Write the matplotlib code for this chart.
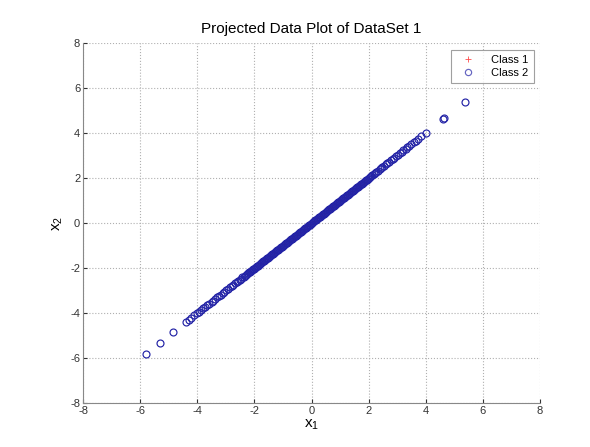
import matplotlib
matplotlib.use('Agg')
import matplotlib.pyplot as plt

plt.rcParams['font.family'] = ['Liberation Sans', 'DejaVu Sans']
plt.rcParams['axes.unicode_minus'] = False

# projected points lie on the line x2 = x1, so one list per class
class1_x = [-1.80, -1.62, -1.45, -1.31, -1.10, -0.95, -0.80, -0.66, -0.52, -0.40,
            -0.28, -0.15, -0.05, 0.08, 0.20, 0.33, 0.45, 0.58, 0.71, 0.86,
            1.00, 1.14, 1.29, 1.43, 1.57, 1.70, 1.84]

class2_x = [-5.80, -5.32, -4.86, -4.38, -4.30, -4.22, -4.10, -4.02, -3.95, -3.88,
            -3.80, -3.72, -3.66, -3.58, -3.50, -3.45, -3.38, -3.30, -3.25, -3.18,
            -3.10, -3.05, -2.98, -2.92, -2.85, -2.80, -2.74, -2.68, -2.62, -2.57,
            -2.52, -2.47, -2.42, -2.38, -2.34, -2.30,
            -2.27, -2.24, -2.20, -2.17, -2.13, -2.10, -2.06, -2.03, -1.99, -1.96,
            -1.92, -1.89, -1.85, -1.82, -1.78, -1.75, -1.71, -1.68, -1.64, -1.61,
            -1.57, -1.54, -1.50, -1.47, -1.43, -1.40, -1.36, -1.33, -1.29, -1.26,
            -1.22, -1.19, -1.15, -1.12, -1.08, -1.05, -1.01, -0.98, -0.94, -0.91,
            -0.87, -0.84, -0.80, -0.77, -0.73, -0.70, -0.66, -0.63, -0.59, -0.56,
            -0.52, -0.49, -0.45, -0.42, -0.38, -0.35, -0.31, -0.28, -0.24, -0.21,
            -0.17, -0.14, -0.10, -0.07, -0.03, 0.00, 0.04, 0.07, 0.11, 0.14,
            0.18, 0.21, 0.25, 0.28, 0.32, 0.35, 0.39, 0.42, 0.46, 0.49,
            0.53, 0.56, 0.60, 0.63, 0.67, 0.70, 0.74, 0.77, 0.81, 0.84,
            0.88, 0.91, 0.95, 0.98, 1.02, 1.05, 1.09, 1.12, 1.16, 1.19,
            1.23, 1.26, 1.30, 1.33, 1.37, 1.40, 1.44, 1.47, 1.51, 1.54,
            1.58, 1.61, 1.65, 1.68, 1.72, 1.75, 1.79, 1.82, 1.86, 1.89,
            1.93, 1.96, 2.00, 2.04, 2.08,
            2.13, 2.18, 2.22, 2.27, 2.32, 2.38, 2.43, 2.48, 2.55, 2.60,
            2.66, 2.72, 2.78, 2.85, 2.90, 2.97, 3.03, 3.10, 3.16, 3.22,
            3.30, 3.36, 3.42, 3.50, 3.58, 3.66, 3.74, 3.85, 4.00, 4.60,
            4.65, 5.38]

ticks = [-8, -6, -4, -2, 0, 2, 4, 6, 8]

fig = plt.figure(figsize=(5.9, 4.47), dpi=100)
ax = fig.add_axes([0.1407, 0.0984, 0.7746, 0.8056])

ax.plot(class1_x, class1_x, '+', color='red', markersize=5, mew=0.6, label='Class 1')
ax.plot(class2_x, class2_x, 'o', color='#2323a6', mfc='none', markersize=5, mew=0.85,
        label='Class 2')

ax.set_xlim(-8, 8)
ax.set_ylim(-8, 8)
ax.set_xticks(ticks)
ax.set_yticks(ticks)
ax.tick_params(direction='in', length=3, labelsize=8, colors='#333333')
ax.tick_params(axis='x', pad=2)
ax.tick_params(axis='y', pad=2)
ax.grid(True, linestyle=':', color='#b0b0b0', linewidth=0.8)
ax.spines['top'].set_visible(False)
ax.spines['right'].set_visible(False)
for s in ['left', 'bottom']:
    ax.spines[s].set_color('#888888')

ax.set_title('Projected Data Plot of DataSet 1', fontsize=11, pad=7)
ax.set_xlabel(r'$\mathregular{x_1}$', fontsize=11, labelpad=1)
ax.set_ylabel(r'$\mathregular{x_2}$', fontsize=11, labelpad=4)

leg = ax.legend(loc='upper right', fontsize=8, frameon=True, fancybox=False,
                edgecolor='#888888', handlelength=2.2, handletextpad=1.0,
                borderpad=0.45, labelspacing=0.25, markerscale=0.9,
                bbox_to_anchor=(0.998, 0.995))
leg.get_frame().set_linewidth(0.8)
for h in leg.legend_handles:
    h.set_alpha(0.7)

plt.savefig('out.png', dpi=100)
plt.close()
